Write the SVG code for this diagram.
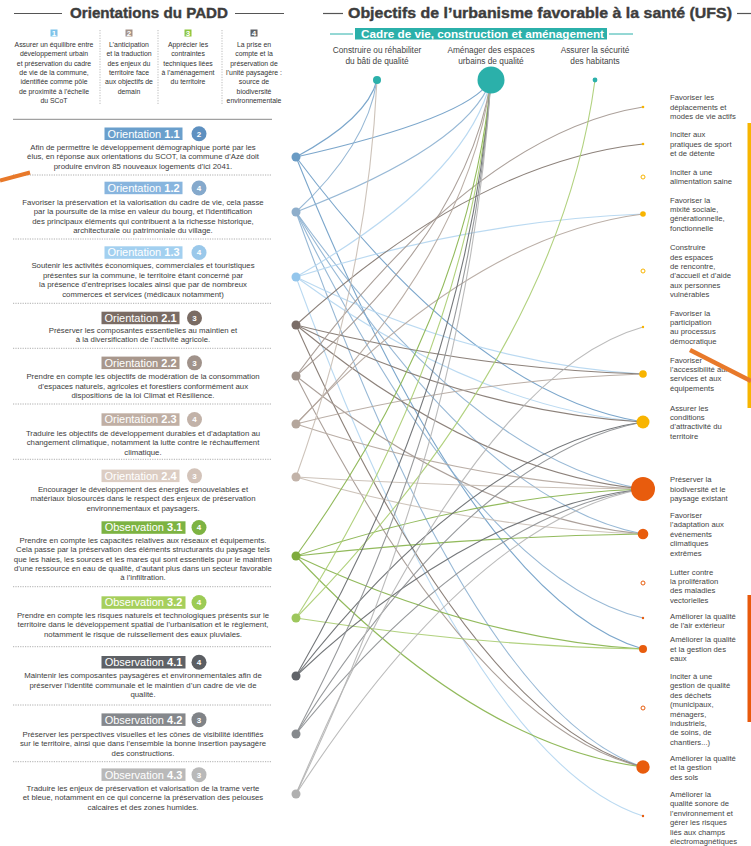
<svg xmlns="http://www.w3.org/2000/svg" width="751" height="846" viewBox="0 0 751 846">
<style>
text{font-family:"Liberation Sans",Arial,sans-serif}
.d{font-size:7.8px;fill:#3c3c3c;text-anchor:middle}
.h{font-size:6.9px;fill:#333;text-anchor:middle}
.bl{font-size:11px;fill:#fff;text-anchor:middle}
.bn{font-size:8px;fill:#fff;font-weight:bold;text-anchor:middle}
.r{font-size:7.7px;fill:#444}
.cl{font-size:8.3px;fill:#444;text-anchor:middle}
.sep{stroke:#9a9a9a;stroke-width:0.8;stroke-dasharray:1.2 1.2;fill:none}
.vsep{stroke:#aaa;stroke-width:0.8;stroke-dasharray:1.2 1.4;fill:none}
.tl{stroke:#555;stroke-width:1.2}
#connectors path{fill:none;stroke-width:1.1;opacity:0.9}
.e11{stroke:#6d9cc5}.e12{stroke:#8cb0d0}.e13{stroke:#b3d5f0}
.e21{stroke:#7f736c}.e22{stroke:#a2968f}.e23{stroke:#b2a59c}.e24{stroke:#c8bcb3}
.e31{stroke:#86b24a}.e32{stroke:#a8cc70}
.e41{stroke:#65686c}.e42{stroke:#8c8e91}.e43{stroke:#b4b4b4}
.y{fill:#f8b400}.o{fill:#e85c0d}
.yr{fill:#fff;stroke:#f8b400;stroke-width:1}
.or{fill:#fff;stroke:#e85c0d;stroke-width:1}
.tn{fill:#2bb0aa}
</style>

<!-- Left header -->
<g id="padd-header">
<line class="tl" x1="14" y1="13.5" x2="62" y2="13.5"/>
<line class="tl" x1="235" y1="13.5" x2="284" y2="13.5"/>
<text x="149" y="17.5" font-size="15" font-weight="bold" fill="#3d3d3d" stroke="#3d3d3d" stroke-width="0.4" text-anchor="middle" textLength="158" lengthAdjust="spacingAndGlyphs">Orientations du PADD</text>
<line class="vsep" x1="100" y1="30" x2="100" y2="105"/>
<line class="vsep" x1="158" y1="30" x2="158" y2="105"/>
<line class="vsep" x1="222" y1="30" x2="222" y2="105"/>
<rect x="50.5" y="29.5" width="7" height="7" fill="#7ec3ea"/><text class="bn" x="54" y="35.5" font-size="6">1</text>
<rect x="125.5" y="29.5" width="7" height="7" fill="#a39288"/><text class="bn" x="129" y="35.5" font-size="6">2</text>
<rect x="184.5" y="29.5" width="7" height="7" fill="#8dc63f"/><text class="bn" x="188" y="35.5" font-size="6">3</text>
<rect x="250.5" y="29.5" width="7" height="7" fill="#5e6166"/><text class="bn" x="254" y="35.5" font-size="6">4</text>
<text class="h" x="54" y="47"><tspan x="54">Assurer un équilibre entre</tspan><tspan x="54" dy="9.3">développement urbain</tspan><tspan x="54" dy="9.3">et préservation du cadre</tspan><tspan x="54" dy="9.3">de vie de la commune,</tspan><tspan x="54" dy="9.3">identifiée comme pôle</tspan><tspan x="54" dy="9.3">de proximité à l’échelle</tspan><tspan x="54" dy="9.3">du SCoT</tspan></text>
<text class="h" x="129" y="47"><tspan x="129">L’anticipation</tspan><tspan x="129" dy="9.3">et la traduction</tspan><tspan x="129" dy="9.3">des enjeux du</tspan><tspan x="129" dy="9.3">territoire face</tspan><tspan x="129" dy="9.3">aux objectifs de</tspan><tspan x="129" dy="9.3">demain</tspan></text>
<text class="h" x="188" y="47"><tspan x="188">Apprécier les</tspan><tspan x="188" dy="9.3">contraintes</tspan><tspan x="188" dy="9.3">techniques liées</tspan><tspan x="188" dy="9.3">à l’aménagement</tspan><tspan x="188" dy="9.3">du territoire</tspan></text>
<text class="h" x="254" y="47"><tspan x="254">La prise en</tspan><tspan x="254" dy="9.3">compte et la</tspan><tspan x="254" dy="9.3">préservation de</tspan><tspan x="254" dy="9.3">l’unité paysagère :</tspan><tspan x="254" dy="9.3">source de</tspan><tspan x="254" dy="9.3">biodiversité</tspan><tspan x="254" dy="9.3">environnementale</tspan></text>
<line x1="13" y1="119.3" x2="272" y2="119.3" stroke="#8a8a8a" stroke-width="1"/>
</g>

<!-- Right header -->
<g id="ufs-header">
<line class="tl" x1="323" y1="13.5" x2="343" y2="13.5"/>
<line class="tl" x1="737" y1="13.5" x2="751" y2="13.5"/>
<text x="348" y="18" font-size="15" font-weight="bold" fill="#3d3d3d" stroke="#3d3d3d" stroke-width="0.4" textLength="384" lengthAdjust="spacingAndGlyphs">Objectifs de l’urbanisme favorable à la santé (UFS)</text>
<line x1="330" y1="34" x2="353" y2="34" stroke="#2bb0aa" stroke-width="1"/>
<line x1="609" y1="34" x2="633" y2="34" stroke="#2bb0aa" stroke-width="1"/>
<rect x="355" y="28" width="252" height="11.5" fill="#2bb0aa"/>
<text x="361" y="37.6" font-size="11" font-weight="bold" fill="#fff" textLength="243" lengthAdjust="spacingAndGlyphs">Cadre de vie, construction et aménagement</text>
</g>

<!-- Connectors -->
<g id="connectors">
<path class="e11" d="M296,157 Q367.3,118.5 377,80"/>
<path class="e11" d="M296,157 Q467.6,118.5 491,80"/>
<path class="e11" d="M296,157 Q475,395.5 643,422"/>
<path class="e11" d="M296,157 Q475,599.8 643,649"/>
<path class="e12" d="M296,212 Q367.3,146 377,80"/>
<path class="e12" d="M296,212 Q467.6,146 491,80"/>
<path class="e12" d="M296,212 Q475,461.3 643,489"/>
<path class="e12" d="M296,212 Q475,501.8 643,534"/>
<path class="e12" d="M296,212 Q475,577.4 643,618"/>
<path class="e12" d="M296,212 Q475,711.5 643,767"/>
<path class="e13" d="M296,277 Q467.6,178.5 491,80"/>
<path class="e13" d="M296,277 Q475,220.3 643,214"/>
<path class="e13" d="M296,277 Q475,364.3 643,374"/>
<path class="e13" d="M296,277 Q475,407.5 643,422"/>
<path class="e13" d="M296,277 Q475,762.1 643,816"/>
<path class="e21" d="M296,325 Q475,162.1 643,144"/>
<path class="e21" d="M296,325 Q475,369.1 643,374"/>
<path class="e21" d="M296,325 Q475,412.3 643,422"/>
<path class="e21" d="M296,325 Q475,472.6 643,489"/>
<path class="e21" d="M296,325 Q475,722.8 643,767"/>
<path class="e22" d="M296,376 Q475,133.9 643,107"/>
<path class="e22" d="M296,376 Q467.6,228 491,80"/>
<path class="e22" d="M296,376 Q475,518.2 643,534"/>
<path class="e22" d="M296,376 Q475,727.9 643,767"/>
<path class="e23" d="M296,424 Q467.6,252 491,80"/>
<path class="e23" d="M296,424 Q475,235 643,214"/>
<path class="e23" d="M296,424 Q475,379 643,374"/>
<path class="e23" d="M296,424 Q475,482.5 643,489"/>
<path class="e24" d="M296,477 Q367.3,278.5 377,80"/>
<path class="e24" d="M296,477 Q475,487.8 643,489"/>
<path class="e24" d="M296,477 Q475,528.3 643,534"/>
<path class="e31" d="M296,556 Q467.6,318 491,80"/>
<path class="e31" d="M296,556 Q475,495.7 643,489"/>
<path class="e31" d="M296,556 Q475,536.2 643,534"/>
<path class="e31" d="M296,556 Q475,639.7 643,649"/>
<path class="e31" d="M296,556 Q475,745.9 643,767"/>
<path class="e32" d="M296,618 Q467.6,349 491,80"/>
<path class="e32" d="M296,618 Q559,349 595,80"/>
<path class="e32" d="M296,618 Q475,645.9 643,649"/>
<path class="e41" d="M296,676 Q467.6,378 491,80"/>
<path class="e41" d="M296,676 Q475,507.7 643,489"/>
<path class="e41" d="M296,676 Q475,447.4 643,422"/>
<path class="e42" d="M296,734 Q467.6,407 491,80"/>
<path class="e42" d="M296,734 Q475,513.5 643,489"/>
<path class="e42" d="M296,734 Q475,453.2 643,422"/>
<path class="e43" d="M296,794 Q467.6,437 491,80"/>
<path class="e43" d="M296,794 Q475,373.7 643,327"/>
<path class="e43" d="M296,794 Q475,519.5 643,489"/>
</g>

<!-- Top UFS nodes -->
<g id="u-batir"><text class="cl" x="377" y="53"><tspan x="377">Construire ou réhabiliter</tspan><tspan x="377" dy="11">du bâti de qualité</tspan></text><circle class="tn" cx="377" cy="80" r="4"/></g>
<g id="u-espaces"><text class="cl" x="491" y="53"><tspan x="491">Aménager des espaces</tspan><tspan x="491" dy="11">urbains de qualité</tspan></text><circle class="tn" cx="491" cy="80" r="13.5"/></g>
<g id="u-securite"><text class="cl" x="595" y="53"><tspan x="595">Assurer la sécurité</tspan><tspan x="595" dy="11">des habitants</tspan></text><circle class="tn" cx="595" cy="80" r="2.4"/></g>

<!-- Left orientation nodes -->
<g id="o11">
<rect x="104.5" y="127.5" width="78" height="12.5" fill="#6a9fcc"/>
<text class="bl" x="143.5" y="137.7">Orientation <tspan font-weight="bold">1.1</tspan></text>
<circle cx="199" cy="133.75" r="7.5" fill="#5e90c0"/><text class="bn" x="199" y="136.6">2</text>
<text class="d" x="143" y="150"><tspan x="143">Afin de permettre le développement démographique porté par les</tspan><tspan x="143" dy="9.4">élus, en réponse aux orientations du SCOT, la commune d’Azé doit</tspan><tspan x="143" dy="9.4">produire environ 85 nouveaux logements d’ici 2041.</tspan></text>
<circle cx="296" cy="157" r="4.5" fill="#6a9bc4"/>
</g>
<line class="sep" x1="13" y1="175" x2="272" y2="175"/>
<g id="o12">
<rect x="104.5" y="181.7" width="78" height="12.5" fill="#88b5de"/>
<text class="bl" x="143.5" y="191.8">Orientation <tspan font-weight="bold">1.2</tspan></text>
<circle cx="199" cy="187.95" r="7.5" fill="#85a9cc"/><text class="bn" x="199" y="190.8">4</text>
<text class="d" x="143" y="205"><tspan x="143">Favoriser la préservation et la valorisation du cadre de vie, cela passe</tspan><tspan x="143" dy="9.4">par la poursuite de la mise en valeur du bourg, et l’identification</tspan><tspan x="143" dy="9.4">des principaux éléments qui contribuent à la richesse historique,</tspan><tspan x="143" dy="9.4">architecturale ou patrimoniale du village.</tspan></text>
<circle cx="296" cy="212" r="4.5" fill="#8eaecb"/>
</g>
<line class="sep" x1="13" y1="239" x2="272" y2="239"/>
<g id="o13">
<rect x="104.5" y="246.3" width="78" height="12.5" fill="#a3d0f0"/>
<text class="bl" x="143.5" y="256.4">Orientation <tspan font-weight="bold">1.3</tspan></text>
<circle cx="199" cy="252.55" r="7.5" fill="#9ac8ea"/><text class="bn" x="199" y="255.4">4</text>
<text class="d" x="143" y="268.4"><tspan x="143">Soutenir les activités économiques, commerciales et touristiques</tspan><tspan x="143" dy="9.4">présentes sur la commune, le territoire étant concerné par</tspan><tspan x="143" dy="9.4">la présence d’entreprises locales ainsi que par de nombreux</tspan><tspan x="143" dy="9.4">commerces et services (médicaux notamment)</tspan></text>
<circle cx="296" cy="277" r="4.5" fill="#94c6ec"/>
</g>
<line class="sep" x1="13" y1="303.3" x2="272" y2="303.3"/>
<g id="o21">
<rect x="101.5" y="311.7" width="78" height="12.5" fill="#7a6c64"/>
<text class="bl" x="140.5" y="321.8">Orientation <tspan font-weight="bold">2.1</tspan></text>
<circle cx="194.5" cy="317.95" r="7.5" fill="#7a6c64"/><text class="bn" x="194.5" y="320.8">3</text>
<text class="d" x="143" y="332.7"><tspan x="143">Préserver les composantes essentielles au maintien et</tspan><tspan x="143" dy="9.4">à la diversification de l’activité agricole.</tspan></text>
<circle cx="296" cy="325" r="4.5" fill="#7a6d67"/>
</g>
<line class="sep" x1="13" y1="348.3" x2="272" y2="348.3"/>
<g id="o22">
<rect x="101.5" y="356.6" width="78" height="12.5" fill="#a8978c"/>
<text class="bl" x="140.5" y="366.7">Orientation <tspan font-weight="bold">2.2</tspan></text>
<circle cx="194.5" cy="362.85" r="7.5" fill="#a0928a"/><text class="bn" x="194.5" y="365.7">3</text>
<text class="d" x="143" y="379.4"><tspan x="143">Prendre en compte les objectifs de modération de la consommation</tspan><tspan x="143" dy="9.4">d’espaces naturels, agricoles et forestiers conformément aux</tspan><tspan x="143" dy="9.4">dispositions de la loi Climat et Résilience.</tspan></text>
<circle cx="296" cy="376" r="4.5" fill="#a0938b"/>
</g>
<line class="sep" x1="13" y1="404" x2="272" y2="404"/>
<g id="o23">
<rect x="101.5" y="413.3" width="78" height="12.5" fill="#c0afa4"/>
<text class="bl" x="140.5" y="423.4">Orientation <tspan font-weight="bold">2.3</tspan></text>
<circle cx="194.5" cy="419.55" r="7.5" fill="#c2b2a8"/><text class="bn" x="194.5" y="422.4">4</text>
<text class="d" x="143" y="436"><tspan x="143">Traduire les objectifs de développement durables et d’adaptation au</tspan><tspan x="143" dy="9.4">changement climatique, notamment la lutte contre le réchauffement</tspan><tspan x="143" dy="9.4">climatique.</tspan></text>
<circle cx="296" cy="424" r="4.5" fill="#b4a69c"/>
</g>
<line class="sep" x1="13" y1="459.3" x2="272" y2="459.3"/>
<g id="o24">
<rect x="101.5" y="469.6" width="78" height="12.5" fill="#dccdc3"/>
<text class="bl" x="140.5" y="479.7">Orientation <tspan font-weight="bold">2.4</tspan></text>
<circle cx="194.5" cy="475.85" r="7.5" fill="#d3c3b9"/><text class="bn" x="194.5" y="478.7">3</text>
<text class="d" x="143" y="492"><tspan x="143">Encourager le développement des énergies renouvelables et</tspan><tspan x="143" dy="9.4">matériaux biosourcés dans le respect des enjeux de préservation</tspan><tspan x="143" dy="9.4">environnementaux et paysagers.</tspan></text>
<circle cx="296" cy="477" r="4.5" fill="#c2b3a9"/>
</g>
<g id="o31">
<rect x="101.5" y="521.3" width="84" height="12.5" fill="#7db342"/>
<text class="bl" x="143.5" y="531.4">Observation <tspan font-weight="bold">3.1</tspan></text>
<circle cx="199" cy="527.55" r="7.5" fill="#7db342"/><text class="bn" x="199" y="530.4">4</text>
<text class="d" x="143" y="542.7"><tspan x="143">Prendre en compte les capacités relatives aux réseaux et équipements.</tspan><tspan x="143" dy="9.4">Cela passe par la préservation des éléments structurants du paysage tels</tspan><tspan x="143" dy="9.4">que les haies, les sources et les mares qui sont essentiels pour le maintien</tspan><tspan x="143" dy="9.4">d’une ressource en eau de qualité, d’autant plus dans un secteur favorable</tspan><tspan x="143" dy="9.4">à l’infiltration.</tspan></text>
<circle cx="296" cy="556" r="4.5" fill="#7fab3d"/>
</g>
<line class="sep" x1="13" y1="586.7" x2="272" y2="586.7"/>
<g id="o32">
<rect x="101.5" y="596.3" width="84" height="12.5" fill="#a6cf5c"/>
<text class="bl" x="143.5" y="606.4">Observation <tspan font-weight="bold">3.2</tspan></text>
<circle cx="199" cy="602.55" r="7.5" fill="#9ccb55"/><text class="bn" x="199" y="605.4">4</text>
<text class="d" x="143" y="617.7"><tspan x="143">Prendre en compte les risques naturels et technologiques présents sur le</tspan><tspan x="143" dy="9.4">territoire dans le développement spatial de l’urbanisation et le règlement,</tspan><tspan x="143" dy="9.4">notamment le risque de ruissellement des eaux pluviales.</tspan></text>
<circle cx="296" cy="618" r="4.5" fill="#9dc75c"/>
</g>
<line class="sep" x1="13" y1="646.7" x2="272" y2="646.7"/>
<g id="o41">
<rect x="101.5" y="656" width="84" height="12.5" fill="#5e6166"/>
<text class="bl" x="143.5" y="666.1">Observation <tspan font-weight="bold">4.1</tspan></text>
<circle cx="199" cy="662.25" r="7.5" fill="#5b5e63"/><text class="bn" x="199" y="665.1">4</text>
<text class="d" x="143" y="678.4"><tspan x="143">Maintenir les composantes paysagères et environnementales afin de</tspan><tspan x="143" dy="9.4">préserver l’identité communale et le maintien d’un cadre de vie de</tspan><tspan x="143" dy="9.4">qualité.</tspan></text>
<circle cx="296" cy="676" r="4.5" fill="#616469"/>
</g>
<line class="sep" x1="13" y1="705" x2="272" y2="705"/>
<g id="o42">
<rect x="101.5" y="713.4" width="84" height="12.5" fill="#85888c"/>
<text class="bl" x="143.5" y="723.5">Observation <tspan font-weight="bold">4.2</tspan></text>
<circle cx="199" cy="719.65" r="7.5" fill="#808387"/><text class="bn" x="199" y="722.5">3</text>
<text class="d" x="143" y="737"><tspan x="143">Préserver les perspectives visuelles et les cônes de visibilité identifiés</tspan><tspan x="143" dy="9.4">sur le territoire, ainsi que dans l’ensemble la bonne insertion paysagère</tspan><tspan x="143" dy="9.4">des constructions.</tspan></text>
<circle cx="296" cy="734" r="4.5" fill="#86898d"/>
</g>
<line class="sep" x1="13" y1="761.7" x2="272" y2="761.7"/>
<g id="o43">
<rect x="101.5" y="768.4" width="84" height="12.5" fill="#b9b9b9"/>
<text class="bl" x="143.5" y="778.5">Observation <tspan font-weight="bold">4.3</tspan></text>
<circle cx="199" cy="774.65" r="7.5" fill="#b9b9b9"/><text class="bn" x="199" y="777.5">3</text>
<text class="d" x="143" y="791"><tspan x="143">Traduire les enjeux de préservation et valorisation de la trame verte</tspan><tspan x="143" dy="9.4">et bleue, notamment en ce qui concerne la préservation des pelouses</tspan><tspan x="143" dy="9.4">calcaires et des zones humides.</tspan></text>
<circle cx="296" cy="794" r="4.5" fill="#b0b0b0"/>
</g>

<!-- Right UFS objective nodes -->
<g id="t-deplacements"><circle class="y" cx="643" cy="107" r="1.3"/><text class="r" x="670" y="100.3"><tspan x="670">Favoriser les</tspan><tspan x="670" dy="9.4">déplacements et</tspan><tspan x="670" dy="9.4">modes de vie actifs</tspan></text></g>
<g id="t-sport"><circle class="y" cx="643" cy="144" r="1.3"/><text class="r" x="670" y="137.3"><tspan x="670">Inciter aux</tspan><tspan x="670" dy="9.4">pratiques de sport</tspan><tspan x="670" dy="9.4">et de détente</tspan></text></g>
<g id="t-alimentation"><circle class="yr" cx="643" cy="177" r="2"/><text class="r" x="670" y="175"><tspan x="670">Inciter à une</tspan><tspan x="670" dy="9.4">alimentation saine</tspan></text></g>
<g id="t-mixite"><circle class="y" cx="643" cy="214" r="2.8"/><text class="r" x="670" y="202.6"><tspan x="670">Favoriser la</tspan><tspan x="670" dy="9.4">mixité sociale,</tspan><tspan x="670" dy="9.4">générationnelle,</tspan><tspan x="670" dy="9.4">fonctionnelle</tspan></text></g>
<g id="t-rencontre"><circle class="yr" cx="643" cy="271" r="2"/><text class="r" x="670" y="250.2"><tspan x="670">Construire</tspan><tspan x="670" dy="9.4">des espaces</tspan><tspan x="670" dy="9.4">de rencontre,</tspan><tspan x="670" dy="9.4">d’accueil et d’aide</tspan><tspan x="670" dy="9.4">aux personnes</tspan><tspan x="670" dy="9.4">vulnérables</tspan></text></g>
<g id="t-participation"><circle class="y" cx="643" cy="327" r="1.2"/><text class="r" x="670" y="315.6"><tspan x="670">Favoriser la</tspan><tspan x="670" dy="9.4">participation</tspan><tspan x="670" dy="9.4">au processus</tspan><tspan x="670" dy="9.4">démocratique</tspan></text></g>
<g id="t-accessibilite"><circle class="y" cx="643" cy="374" r="3.8"/><text class="r" x="670" y="362.6"><tspan x="670">Favoriser</tspan><tspan x="670" dy="9.4">l’accessibilité aux</tspan><tspan x="670" dy="9.4">services et aux</tspan><tspan x="670" dy="9.4">équipements</tspan></text></g>
<g id="t-attractivite"><circle class="y" cx="643" cy="422" r="6.5"/><text class="r" x="670" y="410.6"><tspan x="670">Assurer les</tspan><tspan x="670" dy="9.4">conditions</tspan><tspan x="670" dy="9.4">d’attractivité du</tspan><tspan x="670" dy="9.4">territoire</tspan></text></g>
<g id="t-biodiversite"><circle class="o" cx="643" cy="489" r="12"/><text class="r" x="670" y="482.3"><tspan x="670">Préserver la</tspan><tspan x="670" dy="9.4">biodiversité et le</tspan><tspan x="670" dy="9.4">paysage existant</tspan></text></g>
<g id="t-adaptation"><circle class="o" cx="643" cy="534" r="5.3"/><text class="r" x="670" y="517.9"><tspan x="670">Favoriser</tspan><tspan x="670" dy="9.4">l’adaptation aux</tspan><tspan x="670" dy="9.4">événements</tspan><tspan x="670" dy="9.4">climatiques</tspan><tspan x="670" dy="9.4">extrêmes</tspan></text></g>
<g id="t-maladies"><circle class="or" cx="643" cy="583" r="2"/><text class="r" x="670" y="574.6"><tspan x="670">Lutter contre</tspan><tspan x="670" dy="9.4">la prolifération</tspan><tspan x="670" dy="9.4">des maladies</tspan><tspan x="670" dy="9.4">vectorielles</tspan></text></g>
<g id="t-air"><circle class="o" cx="643" cy="618" r="1.2"/><text class="r" x="670" y="619"><tspan x="670">Améliorer la qualité</tspan><tspan x="670" dy="9.4">de l’air extérieur</tspan></text></g>
<g id="t-eaux"><circle class="o" cx="643" cy="649" r="4"/><text class="r" x="670" y="642.3"><tspan x="670">Améliorer la qualité</tspan><tspan x="670" dy="9.4">et la gestion des</tspan><tspan x="670" dy="9.4">eaux</tspan></text></g>
<g id="t-dechets"><circle class="or" cx="643" cy="708" r="2"/><text class="r" x="670" y="679"><tspan x="670">Inciter à une</tspan><tspan x="670" dy="9.4">gestion de qualité</tspan><tspan x="670" dy="9.4">des déchets</tspan><tspan x="670" dy="9.4">(municipaux,</tspan><tspan x="670" dy="9.4">ménagers,</tspan><tspan x="670" dy="9.4">industriels,</tspan><tspan x="670" dy="9.4">de soins, de</tspan><tspan x="670" dy="9.4">chantiers...)</tspan></text></g>
<g id="t-sols"><circle class="o" cx="643" cy="767" r="6.7"/><text class="r" x="670" y="761"><tspan x="670">Améliorer la qualité</tspan><tspan x="670" dy="9.4">et la gestion</tspan><tspan x="670" dy="9.4">des sols</tspan></text></g>
<g id="t-sonore"><circle class="o" cx="643" cy="816" r="1.2"/><text class="r" x="670" y="797"><tspan x="670">Améliorer la</tspan><tspan x="670" dy="9.4">qualité sonore de</tspan><tspan x="670" dy="9.4">l’environnement et</tspan><tspan x="670" dy="9.4">gérer les risques</tspan><tspan x="670" dy="9.4">liés aux champs</tspan><tspan x="670" dy="9.4">électromagnétiques</tspan></text></g>

<!-- Side bars and marks -->
<rect x="747.5" y="123" width="3.5" height="285" fill="#f7b500"/>
<rect x="747.5" y="595" width="3.5" height="127" fill="#e8590c"/>
<line x1="690" y1="350" x2="751" y2="381" stroke="#e8792a" stroke-width="4.5"/>
<line x1="0" y1="180.5" x2="30" y2="172.5" stroke="#e8792a" stroke-width="4"/>
</svg>
